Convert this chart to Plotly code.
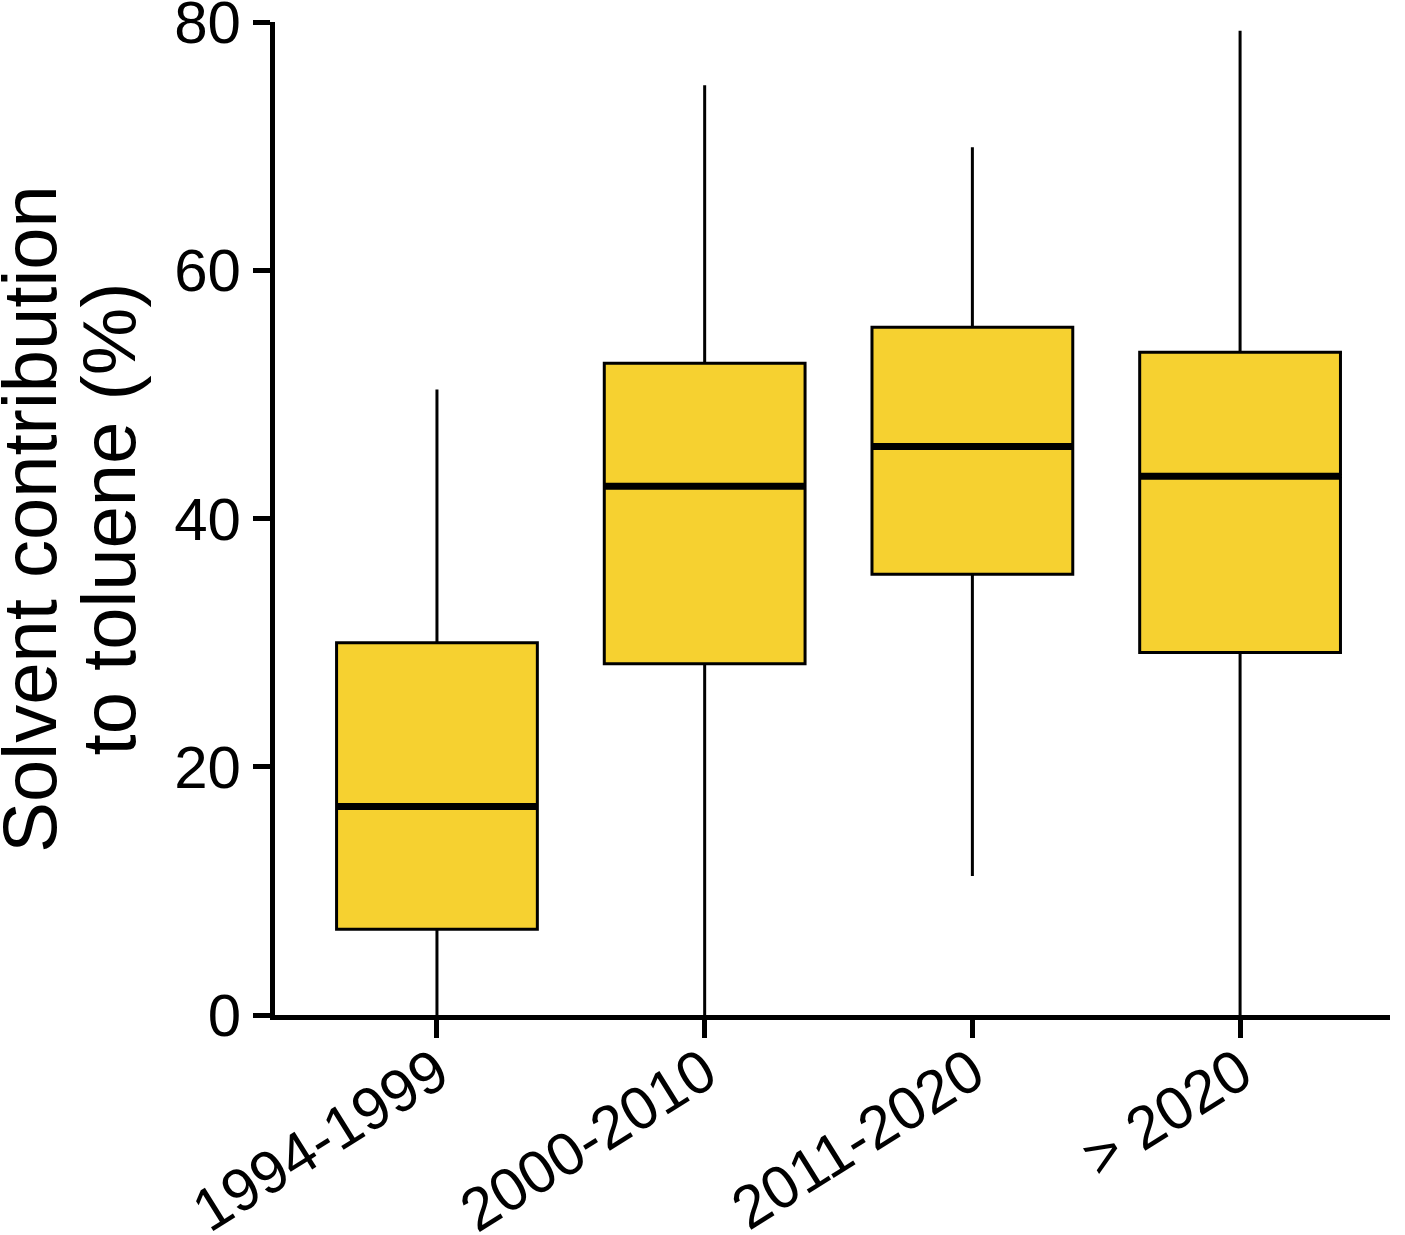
import plotly.graph_objects as go

categories = ["1994-1999", "2000-2010", "2011-2020", "> 2020"]
lower_whisker = [0.0, 0.0, 11.2, 0.0]
q1_values = [6.9, 28.3, 35.5, 29.2]
median_values = [16.8, 42.6, 45.8, 43.4]
q3_values = [30.0, 52.5, 55.4, 53.4]
upper_whisker = [50.4, 74.9, 69.9, 79.3]
y_ticks = [0, 20, 40, 60, 80]
y_title_lines = ["Solvent contribution", "to toluene (%)"]

FILL = "#F6D130"
FONT = "Liberation Sans, Arial, sans-serif"

fig = go.Figure()
fig.add_trace(go.Box(
    x=categories,
    q1=q1_values, median=median_values, q3=q3_values,
    lowerfence=lower_whisker, upperfence=upper_whisker,
    fillcolor=FILL,
    line=dict(color="black", width=3),
    width=0.75,
    whiskerwidth=0,
    boxpoints=False,
    showlegend=False,
    hoverinfo="skip",
))
# thicker median line: degenerate box collapsed onto the median
fig.add_trace(go.Box(
    x=categories,
    q1=median_values, median=median_values, q3=median_values,
    lowerfence=median_values, upperfence=median_values,
    fillcolor="rgba(0,0,0,0)",
    line=dict(color="black", width=7),
    width=0.75,
    whiskerwidth=0,
    boxpoints=False,
    showlegend=False,
    hoverinfo="skip",
))

fig.update_layout(
    width=1405, height=1235,
    margin=dict(l=275, r=15, t=22, b=220),
    paper_bgcolor="white", plot_bgcolor="white",
    boxmode="overlay",
    font=dict(family=FONT, color="black", size=60),
    xaxis=dict(
        type="category",
        range=[-0.605, 3.56],
        automargin=False,
        showline=True, linecolor="black", linewidth=5,
        ticks="outside", ticklen=18, tickwidth=5, tickcolor="black",
        tickangle=-32,
        ticklabelstandoff=-24,
        ticklabeloverflow="allow",
        tickfont=dict(size=60, family=FONT, color="black"),
        showgrid=False, zeroline=False,
    ),
    yaxis=dict(
        range=[0, 80],
        tickvals=y_ticks,
        automargin=False,
        ticklabeloverflow="allow",
        showline=True, linecolor="black", linewidth=5,
        ticks="outside", ticklen=17, tickwidth=5, tickcolor="black",
        tickfont=dict(size=60, family=FONT, color="black"),
        showgrid=False, zeroline=False,
    ),
)

for text, xpos in zip(y_title_lines, [-0.2205, -0.1489]):
    fig.add_annotation(
        text=text, xref="paper", yref="paper", x=xpos, y=0.5,
        xanchor="center", yanchor="middle", textangle=-90,
        showarrow=False, font=dict(size=76, family=FONT, color="black"),
    )

fig.write_html(
    "out.html",
    config={"displayModeBar": False},
    post_script="document.body.style.margin='0';document.body.style.overflow='hidden';",
)
